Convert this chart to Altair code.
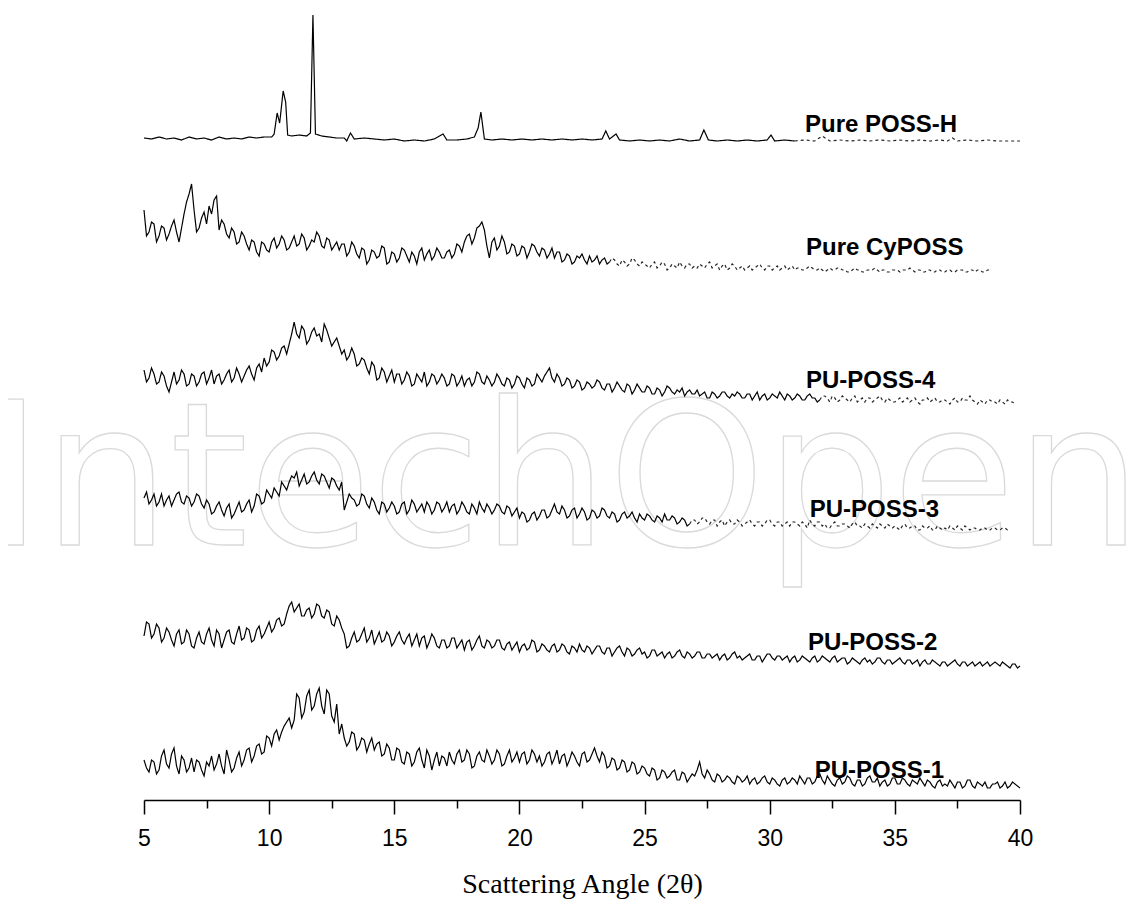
import altair as alt
import pandas as pd

# ---------------- data (intensity in a.u.) ----------------
series_names = ["Pure POSS-H", "Pure CyPOSS", "PU-POSS-4", "PU-POSS-3", "PU-POSS-2", "PU-POSS-1"]
offsets = [658, 528, 396, 268, 132, 10]            # vertical stacking offsets (a.u.)
faint_from = [31.0, 23.6, 32.0, 26.8, None, None]  # where the printed trace becomes faint/broken

grid_start = 5.0
grid_step = 0.1   # values alternate: *_main at 5.0, 5.2, ...; *_mid at 5.1, 5.3, ...

posh_x = [5.0, 5.3, 5.6, 5.9, 6.2, 6.5, 6.8, 7.1, 7.4, 7.7,
          8.0, 8.3, 8.6, 8.9, 9.2, 9.5, 9.8, 10.1, 10.2, 10.32,
          10.42, 10.56, 10.66, 10.74, 10.9, 11.2, 11.5, 11.65, 11.75, 11.85,
          12.1, 12.4, 12.7, 13.0, 13.1, 13.25, 13.4, 13.8, 14.2, 14.6,
          15.0, 15.4, 15.8, 16.2, 16.6, 16.95, 17.1, 17.5, 17.9, 18.2,
          18.35, 18.46, 18.6, 18.9, 19.3, 19.7, 20.1, 20.5, 20.9, 21.3,
          21.7, 22.1, 22.5, 22.9, 23.3, 23.45, 23.6, 23.86, 24.0, 24.4,
          24.8, 25.2, 25.6, 26.0, 26.4, 26.8, 27.2, 27.37, 27.55, 27.9,
          28.3, 28.7, 29.1, 29.5, 29.9, 30.05, 30.2, 30.6, 31.0, 31.4,
          31.8, 32.1, 32.4, 32.8, 33.2, 33.6, 34.0, 34.4, 34.8, 35.2,
          35.6, 36.0, 36.4, 36.8, 37.1, 37.3, 37.5, 37.9, 38.3, 38.7,
          39.1, 39.5, 40.0]
posh_y = [4, 3, 5, 3, 4, 2, 5, 3, 4, 2,
          5, 3, 4, 3, 5, 4, 5, 5, 8, 29,
          19, 51, 40, 7, 6, 7, 6, 9, 127, 8,
          6, 5, 4, 4, 1, 9, 3, 4, 3, 2,
          3, 1, 2, 1, 3, 8, 2, 2, 3, 5,
          14, 30, 3, 2, 3, 2, 3, 2, 3, 2,
          3, 2, 3, 2, 3, 11, 3, 8, 2, 1,
          2, 1, 2, 1, 3, 1, 2, 12, 2, 1,
          2, 1, 2, 1, 2, 7, 1, 2, 1, 2,
          1, 6, 1, 2, 1, 2, 1, 2, 1, 2,
          1, 2, 1, 2, 1, 4, 1, 2, 1, 2,
          1, 1, 1]

cyposs_main = [62, 40, 48, 36, 44, 38, 52, 30, 58, 78,
               62, 44, 60, 66, 72, 42, 48, 34, 40, 30,
               36, 22, 30, 16, 28, 20, 34, 28, 32, 24,
               36, 28, 34, 26, 30, 36, 24, 32, 26, 22,
               28, 20, 26, 14, 22, 12, 20, 16, 24, 10,
               18, 14, 22, 10, 16, 20, 12, 22, 16, 20,
               14, 22, 18, 26, 30, 38, 34, 46, 42, 14,
               34, 26, 30, 20, 26, 18, 24, 20, 26, 16,
               22, 18, 14, 20, 12, 16, 10, 14, 12, 16,
               12, 8, 14, 10, 12, 6, 10, 8, 12, 6,
               8, 4, 10, 6, 8, 4, 6, 10, 4, 8,
               6, 8, 4, 10, 6, 2, 8, 4, 6, 4,
               2, 6, 4, 8, 2, 6, 4, 2, 6, 4,
               2, 4, 2, 6, 2, 4, 0, 4, 2, 4,
               2, 0, 4, 2, 0, 2, 4, 0, 2, 0,
               2, 0, 2, 4, 0, 2, 0, 2, 0, 2,
               0, 2, 0, 2, 0, 2, 0, 2, 0, 2]
cyposs_mid = [36, 50, 30, 46, 32, 46, 40, 44, 70, 88,
              40, 54, 48, 58, 76, 52, 38, 44, 28, 40,
              28, 32, 20, 30, 22, 30, 24, 36, 22, 30,
              26, 38, 22, 32, 40, 26, 34, 22, 30, 28,
              16, 30, 18, 24, 8, 22, 14, 26, 8, 20,
              10, 24, 16, 20, 8, 24, 18, 12, 24, 14,
              20, 14, 28, 20, 36, 28, 44, 50, 26, 30,
              22, 36, 18, 28, 16, 26, 14, 28, 20, 24,
              14, 24, 20, 10, 18, 8, 16, 18, 8, 10,
              16, 12, 8, 14, 8, 12, 6, 14, 8, 10,
              6, 8, 4, 10, 2, 8, 4, 6, 8, 4,
              4, 6, 8, 4, 8, 6, 2, 8, 2, 6,
              4, 2, 6, 4, 6, 2, 6, 4, 2, 6,
              4, 2, 4, 4, 2, 2, 2, 2, 4, 2,
              0, 2, 2, 0, 2, 2, 2, 2, 0, 2,
              2, 2, 2, 2, 2, 0, 2, 0, 2, 0,
              2, 0, 2, 2, 0, 2, 2, 0, 2]

pu4_main = [34, 26, 30, 22, 28, 12, 32, 24, 30, 20,
            28, 22, 32, 26, 20, 30, 24, 34, 26, 30,
            28, 38, 24, 40, 46, 42, 52, 48, 58, 60,
            82, 66, 74, 64, 76, 70, 80, 66, 62, 58,
            54, 48, 50, 40, 44, 30, 38, 26, 32, 28,
            22, 30, 24, 28, 20, 26, 32, 22, 28, 24,
            26, 20, 28, 22, 18, 26, 22, 30, 20, 24,
            22, 26, 18, 24, 20, 26, 16, 24, 20, 26,
            28, 36, 22, 26, 20, 24, 18, 22, 16, 20,
            18, 22, 14, 20, 16, 18, 12, 18, 14, 16,
            12, 16, 10, 14, 12, 16, 10, 12, 8, 14,
            10, 8, 12, 6, 10, 8, 12, 6, 8, 10,
            6, 10, 8, 4, 10, 6, 8, 12, 4, 8,
            6, 8, 4, 10, 6, 4, 8, 2, 6, 4,
            6, 2, 8, 4, 2, 6, 4, 8, 2, 4,
            2, 6, 4, 2, 6, 0, 4, 2, 6, 2,
            4, 0, 6, 2, 4, 8, 2, 4, 0, 4,
            2, 4, 0, 2, 0]
pu4_mid = [22, 36, 20, 32, 18, 22, 20, 34, 18, 30,
           18, 30, 20, 34, 28, 20, 30, 22, 36, 22,
           34, 30, 36, 32, 38, 54, 44, 56, 50, 70,
           70, 78, 60, 72, 68, 62, 74, 58, 66, 50,
           44, 56, 38, 46, 36, 42, 24, 36, 22, 34,
           30, 20, 32, 18, 30, 22, 18, 30, 20, 30,
           18, 30, 18, 28, 24, 18, 32, 22, 28, 18,
           30, 20, 26, 16, 28, 20, 26, 18, 30, 22,
           32, 26, 30, 18, 26, 16, 24, 14, 22, 16,
           24, 16, 20, 12, 22, 14, 20, 10, 20, 12,
           18, 10, 16, 8, 18, 12, 14, 16, 12, 10,
           14, 10, 6, 12, 6, 12, 8, 10, 12, 6,
           10, 4, 12, 8, 4, 10, 6, 8, 10, 4,
           10, 4, 8, 6, 2, 8, 6, 8, 2, 8,
           4, 6, 2, 6, 6, 2, 6, 4, 6, 2,
           4, 2, 6, 4, 2, 4, 6, 4, 2, 4,
           2, 4, 2, 6, 4, 4, 0, 2, 4, 2,
           0, 2, 4, 2]

pu3_main = [34, 28, 38, 30, 26, 36, 32, 40, 28, 34,
            30, 36, 24, 28, 20, 30, 16, 28, 18, 30,
            22, 32, 26, 36, 30, 38, 44, 36, 46, 50,
            54, 46, 58, 50, 60, 48, 56, 44, 52, 42,
            22, 38, 32, 28, 36, 24, 30, 18, 28, 24,
            26, 20, 30, 22, 28, 24, 20, 26, 22, 28,
            24, 20, 28, 22, 26, 18, 24, 30, 20, 24,
            22, 26, 18, 24, 20, 14, 18, 12, 20, 16,
            22, 16, 28, 18, 22, 16, 24, 18, 20, 14,
            20, 16, 22, 14, 18, 12, 20, 16, 14, 18,
            12, 16, 10, 14, 18, 12, 14, 10, 12, 8,
            12, 10, 14, 8, 12, 10, 6, 12, 8, 10,
            8, 12, 6, 10, 8, 12, 6, 10, 8, 6,
            10, 6, 8, 12, 6, 10, 8, 4, 10, 6,
            8, 4, 10, 6, 8, 4, 6, 8, 4, 6,
            6, 2, 8, 4, 6, 2, 4, 6, 2, 4,
            4, 6, 2, 4, 6, 2, 4, 2, 4, 2,
            4, 2, 4, 2]
pu3_mid = [40, 32, 26, 38, 32, 26, 38, 30, 36, 26,
           38, 28, 32, 18, 26, 22, 24, 14, 24, 20,
           28, 20, 38, 28, 42, 34, 40, 50, 42, 56,
           60, 52, 48, 56, 52, 58, 50, 54, 46, 50,
           30, 34, 26, 38, 28, 34, 22, 30, 20, 30,
           18, 28, 18, 32, 20, 28, 30, 18, 30, 20,
           30, 26, 18, 30, 20, 28, 18, 24, 28, 18,
           28, 20, 26, 16, 24, 20, 10, 18, 12, 22,
           14, 22, 20, 26, 14, 22, 14, 24, 12, 22,
           14, 24, 16, 20, 10, 18, 14, 20, 10, 14,
           18, 12, 16, 10, 12, 16, 8, 14, 6, 12,
           8, 14, 10, 12, 6, 12, 10, 8, 12, 6,
           10, 8, 10, 6, 12, 8, 10, 6, 10, 10,
           8, 10, 4, 8, 10, 6, 4, 8, 6, 8,
           6, 8, 6, 4, 6, 8, 4, 6, 8, 4,
           4, 6, 4, 6, 2, 6, 4, 2, 6, 2,
           2, 4, 6, 2, 4, 4, 2, 4, 2, 4,
           2, 4, 2]

pu2_main = [32, 44, 34, 40, 30, 36, 22, 38, 26, 34,
            20, 36, 24, 40, 22, 34, 28, 38, 24, 42,
            30, 38, 28, 42, 34, 46, 40, 50, 44, 62,
            56, 64, 52, 60, 54, 62, 50, 56, 42, 48,
            34, 22, 36, 28, 40, 30, 24, 36, 28, 32,
            26, 36, 24, 34, 28, 22, 32, 26, 30, 20,
            28, 22, 30, 24, 18, 28, 22, 32, 20, 26,
            22, 28, 18, 26, 22, 16, 24, 20, 26, 18,
            22, 16, 24, 18, 22, 14, 20, 24, 16, 20,
            18, 22, 14, 20, 16, 22, 12, 18, 14, 20,
            16, 12, 18, 14, 10, 16, 12, 18, 10, 14,
            12, 16, 10, 14, 12, 8, 14, 10, 16, 12,
            10, 14, 8, 12, 10, 14, 8, 12, 10, 6,
            12, 8, 10, 6, 12, 8, 10, 6, 12, 8,
            10, 6, 8, 4, 10, 8, 6, 10, 4, 8,
            6, 10, 4, 8, 6, 2, 8, 4, 6, 2,
            6, 4, 8, 2, 6, 4, 2, 6, 4, 2,
            6, 2, 4, 0, 4, 2]
pu2_mid = [46, 30, 44, 26, 40, 28, 34, 24, 38, 22,
           30, 26, 34, 28, 38, 20, 36, 26, 34, 28,
           40, 26, 38, 30, 40, 36, 48, 42, 54, 66,
           60, 52, 58, 50, 64, 52, 58, 44, 52, 40,
           20, 30, 26, 34, 26, 38, 30, 26, 36, 22,
           32, 28, 30, 22, 34, 30, 20, 34, 22, 28,
           20, 30, 20, 28, 26, 18, 28, 22, 28, 20,
           28, 20, 24, 18, 26, 22, 18, 28, 16, 24,
           18, 22, 16, 24, 16, 22, 16, 18, 22, 14,
           22, 16, 20, 12, 20, 16, 20, 12, 18, 14,
           10, 18, 12, 16, 14, 10, 16, 12, 16, 10,
           16, 10, 14, 10, 14, 12, 8, 14, 10, 8,
           12, 8, 12, 6, 14, 10, 12, 8, 12, 10,
           6, 12, 8, 10, 6, 12, 8, 10, 6, 10,
           4, 10, 6, 8, 6, 4, 10, 6, 8, 4,
           8, 6, 8, 4, 8, 6, 4, 8, 4, 6,
           2, 6, 4, 6, 2, 6, 4, 2, 6, 4,
           4, 6, 2, 4, 0]

pu1_main = [30, 18, 28, 20, 40, 22, 42, 16, 30, 22,
            18, 28, 14, 24, 20, 36, 16, 30, 22, 38,
            30, 42, 34, 46, 38, 52, 56, 50, 64, 72,
            70, 92, 78, 100, 84, 102, 76, 96, 68, 56,
            52, 48, 56, 44, 50, 46, 40, 48, 36, 42,
            30, 40, 26, 36, 28, 42, 22, 34, 30, 24,
            32, 38, 26, 40, 30, 36, 24, 38, 28, 34,
            30, 36, 26, 40, 32, 28, 38, 30, 36, 34,
            28, 38, 32, 26, 36, 30, 34, 24, 38, 30,
            42, 28, 34, 24, 30, 22, 28, 20, 26, 18,
            22, 14, 20, 12, 18, 14, 20, 10, 16, 12,
            14, 28, 12, 16, 8, 14, 10, 12, 6, 12,
            10, 6, 12, 8, 14, 6, 10, 4, 12, 8,
            10, 14, 6, 12, 8, 16, 6, 10, 4, 12,
            8, 12, 4, 10, 6, 14, 8, 4, 10, 6,
            12, 6, 10, 4, 8, 12, 4, 8, 2, 10,
            6, 10, 2, 8, 4, 10, 2, 6, 8, 2,
            6, 2, 8, 4, 6, 2]
pu1_mid = [22, 30, 16, 34, 26, 36, 24, 34, 18, 32,
           30, 20, 28, 34, 26, 24, 40, 18, 32, 24,
           40, 28, 44, 36, 54, 44, 60, 58, 68, 62,
           96, 72, 94, 80, 96, 84, 100, 74, 86, 66,
           44, 58, 40, 52, 38, 52, 46, 34, 46, 30,
           42, 28, 38, 24, 38, 30, 40, 20, 38, 34,
           24, 30, 36, 28, 40, 22, 34, 30, 40, 26,
           40, 24, 34, 28, 38, 36, 26, 40, 28, 24,
           36, 26, 40, 34, 24, 38, 28, 36, 28, 36,
           34, 38, 22, 32, 20, 30, 18, 28, 16, 24,
           16, 22, 10, 20, 12, 18, 10, 18, 8, 16,
           20, 16, 20, 10, 16, 8, 14, 8, 14, 8,
           14, 10, 6, 12, 8, 12, 6, 10, 6, 12,
           6, 10, 12, 6, 14, 10, 14, 6, 10, 6,
           14, 6, 10, 4, 12, 8, 12, 8, 4, 12,
           6, 12, 6, 10, 6, 8, 10, 4, 8, 4,
           4, 6, 8, 2, 10, 4, 8, 4, 2, 6,
           8, 4, 2, 8, 4]

label_x = [31.41, 31.45, 31.45, 31.6, 31.53, 31.8]
label_y = [668, 545, 412, 283, 150, 22]

tick_values = [5, 7.5, 10, 12.5, 15, 17.5, 20, 22.5, 25, 27.5, 30, 32.5, 35, 37.5, 40]

# ---------------- table ----------------
def merged(main, mid):
    vals = []
    for i, v in enumerate(main):
        vals.append(v)
        if i < len(mid):
            vals.append(mid[i])
    xs = [round(grid_start + grid_step * k, 2) for k in range(len(vals))]
    return xs, vals

traces = [(posh_x, posh_y), merged(cyposs_main, cyposs_mid), merged(pu4_main, pu4_mid),
          merged(pu3_main, pu3_mid), merged(pu2_main, pu2_mid), merged(pu1_main, pu1_mid)]

rows = []
for name, off, tail, (xs, vals) in zip(series_names, offsets, faint_from, traces):
    for x, v in zip(xs, vals):
        if tail is None or x <= tail + 1e-9:
            rows.append(dict(series=name, x=x, intensity=v, offset=off, seg="solid"))
        if tail is not None and x >= tail - 1e-9:
            rows.append(dict(series=name, x=x, intensity=v, offset=off, seg="faint"))
df = pd.DataFrame(rows)

labels_df = pd.DataFrame({"name": series_names, "lx": label_x, "ly": label_y})
wm_df = pd.DataFrame({"t": ["IntechOpen"]})

xscale = alt.Scale(domain=[5, 40], nice=False, zero=False)
yscale = alt.Scale(domain=[0, 790], nice=False, zero=False)

watermark = alt.Chart(wm_df).mark_text(
    align="left", baseline="alphabetic", font="DejaVu Sans", fontSize=200,
    fill="white", fillOpacity=0, stroke="#dadada", strokeWidth=1.3
).encode(text="t:N", x=alt.value(-160), y=alt.value(535))

lines = alt.Chart(df).transform_calculate(
    y="datum.offset + datum.intensity"
).mark_line(color="black", strokeWidth=1.2).encode(
    x=alt.X("x:Q", scale=xscale, title="Scattering Angle (2θ)",
            axis=alt.Axis(values=tick_values,
                          labelExpr="datum.value % 5 === 0 ? datum.label : ''",
                          tickSize={"condition": {"test": "datum.value % 5 === 0", "value": 14}, "value": 8},
                          tickWidth=1.5, tickColor="black", domainColor="black", domainWidth=1.5,
                          labelFont="Liberation Sans", labelFontSize=23, labelColor="black",
                          labelPadding=13, labelFlush=False, labelOverlap=False, grid=False,
                          titleFont="Liberation Serif", titleFontSize=28, titleFontWeight="normal",
                          titleColor="black", titlePadding=20)),
    y=alt.Y("y:Q", scale=yscale, axis=None),
    detail="series:N",
    strokeDash=alt.StrokeDash("seg:N", scale=alt.Scale(domain=["solid", "faint"], range=[[1, 0], [3, 3]]), legend=None),
    opacity=alt.Opacity("seg:N", scale=alt.Scale(domain=["solid", "faint"], range=[1, 0.85]), legend=None),
)

labels = alt.Chart(labels_df).mark_text(
    align="left", baseline="alphabetic",
    font="Liberation Sans, Arial, sans-serif",
    fontWeight="bold", fontSize=24, color="black"
).encode(
    x=alt.X("lx:Q", scale=xscale),
    y=alt.Y("ly:Q", scale=yscale),
    text="name:N",
)

chart = alt.layer(watermark, lines, labels).properties(
    width=876, height=790,
    autosize=alt.AutoSizeParams(type="none"),
    padding={"left": 136, "top": 2, "right": 110, "bottom": 100},
    background="white",
).configure_view(stroke=None)

chart.save("out.html", embed_options={"renderer": "svg", "actions": False})
